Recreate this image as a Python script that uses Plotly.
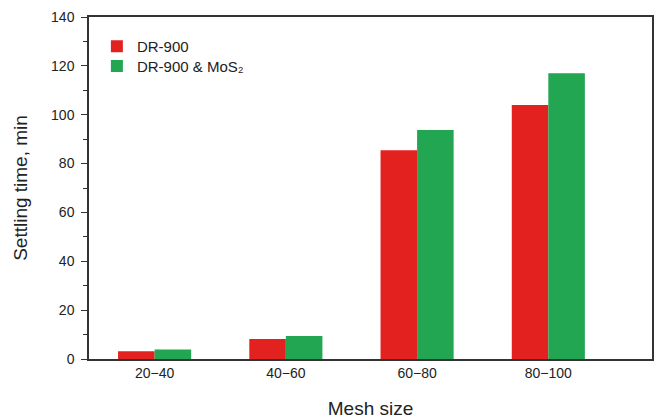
import plotly.graph_objects as go

# Mesh size fractions and settling times (min)
mesh_sizes = ["20\u221240", "40\u221260", "60\u221280", "80\u2212100"]
dr900 = [3.2, 8.2, 85.5, 104.0]
dr900_mos2 = [3.9, 9.4, 93.7, 117.0]

series_names = ["DR-900", "DR-900 &amp; MoS\u2082"]
series_colors = ["#E3221F", "#22A651"]
legend_ids = ["legend", "legend2"]

y_tick_vals = [0, 20, 40, 60, 80, 100, 120, 140]
y_tick_text = [str(v) for v in y_tick_vals]

FONT = "Liberation Sans, Arial, sans-serif"

fig = go.Figure()
for name, vals, color, leg in zip(series_names, [dr900, dr900_mos2], series_colors, legend_ids):
    fig.add_trace(go.Bar(
        x=list(range(len(mesh_sizes))),
        y=vals,
        name=name,
        legend=leg,
        marker=dict(color=color, line=dict(width=0)),
    ))

legend_style = dict(
    xanchor="left", yanchor="top",
    bgcolor="rgba(0,0,0,0)",
    font=dict(size=15, family=FONT, color="#222222"),
)

fig.update_layout(
    width=654,
    height=419,
    margin=dict(l=88.5, r=1.5, t=17, b=60.3),
    paper_bgcolor="white",
    plot_bgcolor="white",
    barmode="group",
    bargap=0.443,
    bargroupgap=0,
    font=dict(family=FONT, color="#222222"),
    showlegend=True,
    legend=dict(x=0.014, y=0.962, **legend_style),
    legend2=dict(x=0.014, y=0.904, **legend_style),
)

fig.update_xaxes(
    range=[-0.5, 3.79],
    automargin=False,
    tickmode="array",
    tickvals=list(range(len(mesh_sizes))),
    ticktext=mesh_sizes,
    ticks="",
    tickfont=dict(size=14, family=FONT, color="#222222"),
    showgrid=False,
    zeroline=False,
    showline=True,
    linecolor="#333333",
    linewidth=1.5,
    mirror=True,
    title=dict(text="Mesh size", font=dict(size=19, family=FONT, color="#222222"), standoff=27),
)

fig.update_yaxes(
    range=[0, 140],
    automargin=False,
    tickmode="array",
    tickvals=y_tick_vals,
    ticktext=y_tick_text,
    ticks="outside",
    ticklen=6,
    tickwidth=1.3,
    tickcolor="#333333",
    ticklabelstandoff=4,
    minor=dict(dtick=10, ticks="outside", ticklen=4, tickwidth=1.3, tickcolor="#333333", showgrid=False),
    tickfont=dict(size=14, family=FONT, color="#222222"),
    showgrid=False,
    zeroline=False,
    showline=True,
    linecolor="#333333",
    linewidth=1.5,
    mirror=True,
    title=dict(text="Settling time, min", font=dict(size=19, family=FONT, color="#222222"), standoff=18),
)

fig.write_html("out.html")
